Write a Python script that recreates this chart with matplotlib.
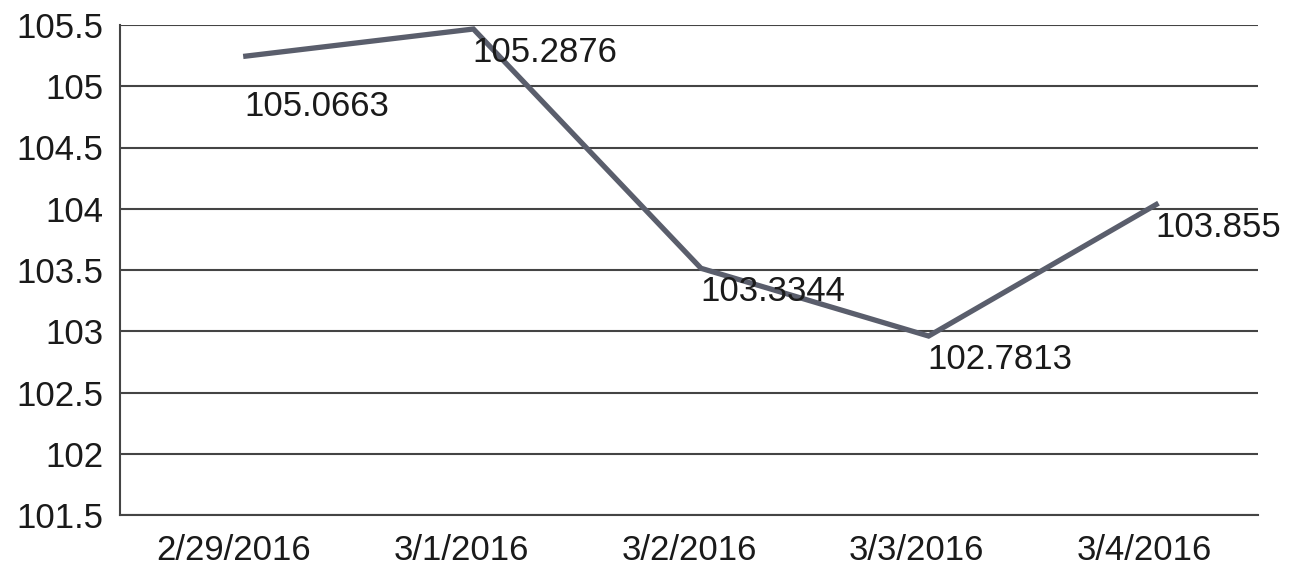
import matplotlib
matplotlib.use('Agg')
import matplotlib.pyplot as plt
import matplotlib.transforms as mtransforms

dates = ['2/29/2016', '3/1/2016', '3/2/2016', '3/3/2016', '3/4/2016']
values = [105.0663, 105.2876, 103.3344, 102.7813, 103.855]
labels = ['105.0663', '105.2876', '103.3344', '102.7813', '103.855']
yticks = [101.5, 102, 102.5, 103, 103.5, 104, 104.5, 105, 105.5]

plt.rcParams['font.family'] = ['Liberation Sans', 'DejaVu Sans']

fig = plt.figure(figsize=(12.97, 5.76), dpi=100)
ax = fig.add_axes([120/1297, 61/576, 1138/1297, 490/576])

x = list(range(len(dates)))

# the line in the source image is shifted right/up from its values
shifted = mtransforms.offset_copy(ax.transData, fig=fig, x=12, y=22, units='dots')
ax.plot(x, values, color='#5a5e6c', lw=3.8, solid_joinstyle='miter', transform=shifted, zorder=3)

for i in range(len(x)):
    dy = -28 if i == 0 else -1
    tr = mtransforms.offset_copy(ax.transData, fig=fig, x=11, y=dy, units='dots')
    ax.text(x[i], values[i], labels[i], transform=tr, ha='left', va='center',
            fontsize=25, color='#1a1a1a', zorder=4)

ax.set_xlim(-0.5, 4.5)
ax.set_ylim(101.5, 105.5)
ax.set_yticks(yticks)
ax.set_yticklabels(['%g' % v for v in yticks])
ax.set_xticks(x)
ax.set_xticklabels(dates)
ax.tick_params(axis='y', length=0, pad=12, labelsize=25, labelcolor='#1a1a1a')
ax.tick_params(axis='x', length=0, pad=14, labelsize=25, labelcolor='#1a1a1a')

ax.grid(axis='y', color='#444444', lw=1.5)
ax.set_axisbelow(True)
for s in ['top', 'right']:
    ax.spines[s].set_visible(False)
for s in ['left', 'bottom']:
    ax.spines[s].set_color('#444444')
    ax.spines[s].set_linewidth(1.5)

fig.savefig('out.png', dpi=100)
